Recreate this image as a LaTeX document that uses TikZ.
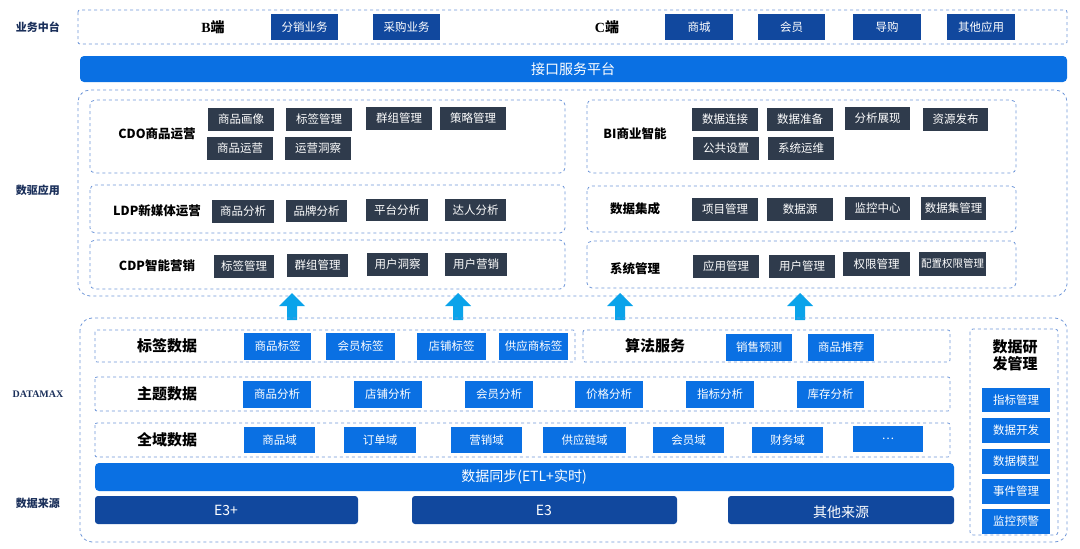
\documentclass[tikz,border=0pt]{standalone}
\usepackage{fontspec}
\setmainfont{Noto Sans CJK SC}
\newfontfamily\serifcjk{Liberation Serif}
\newfontfamily\cjkf{Noto Sans CJK SC}
\begin{document}
\begin{tikzpicture}[x=1pt,y=-1pt,
  dbox/.style={draw=dashc,dashed,line width=0.8pt,rounded corners=5pt},
  gray/.style={fill=grayc,text=white,font=\fontsize{11.5}{12}\selectfont,inner sep=0pt},
  navy/.style={fill=navyc,text=white,font=\fontsize{11.5}{12}\selectfont,inner sep=0pt},
  blue/.style={fill=bluec,text=white,font=\fontsize{11.5}{12}\selectfont,inner sep=0pt},
  side/.style={font=\bfseries\fontsize{11}{12}\selectfont,text=titc},
  lbl/.style={font=\bfseries\fontsize{12.5}{13}\selectfont,text=black},
  big/.style={font=\bfseries\fontsize{15}{17}\selectfont,text=black},
  uparr/.style={fill=arrc,draw=none}]
\definecolor{dashc}{HTML}{6E96D8}
\definecolor{grayc}{HTML}{2F3B4C}
\definecolor{navyc}{HTML}{11489E}
\definecolor{bluec}{HTML}{0A70E3}
\definecolor{titc}{HTML}{1A2F5A}
\definecolor{arrc}{HTML}{0AA3EA}
\useasboundingbox (0,0) rectangle (1080,549);
\newcommand{\bx}[5]{\node[#1,minimum width=#3-#2,minimum height=#5-#4] at ({(#2+#3)/2},{(#4+#5)/2})}
% side labels
\node[side] (s1) at (38,27) {业务中台};
\node[side] (s2) at (38,190) {数驱应用};
\node[side,font=\serifcjk\bfseries\fontsize{10}{11}\selectfont] (s3) at (38,394) {DATAMAX};
\node[side] (s4) at (38,503) {数据来源};
% top
\draw[dbox,rounded corners=2pt] (78,10) rectangle (1067,44);
\node[lbl,font=\serifcjk\bfseries\fontsize{14}{15}\selectfont] (b) at (213,27) {B{\cjkf 端}};
\bx{navy}{271}{338}{14}{40} (t1) {分销业务};
\bx{navy}{373}{440}{14}{40} (t2) {采购业务};
\node[lbl,font=\serifcjk\bfseries\fontsize{14}{15}\selectfont] (c) at (607,27) {C{\cjkf 端}};
\bx{navy}{665}{733}{14}{40} (t3) {商城};
\bx{navy}{758}{825}{14}{40} (t4) {会员};
\bx{navy}{853}{921}{14}{40} (t5) {导购};
\bx{navy}{947}{1015}{14}{40} (t6) {其他应用};
\fill[bluec,rounded corners=4pt] (80,56) rectangle (1067,82);
\node[text=white,font=\fontsize{14}{15}\selectfont] (api) at (573,69) {接口服务平台};
% apps
\draw[dbox,rounded corners=12pt] (78,90) rectangle (1067,296);
\draw[dbox] (90,100) rectangle (565,173);
\draw[dbox] (90,185) rectangle (565,233);
\draw[dbox] (90,240) rectangle (565,289);
\draw[dbox] (587,100) rectangle (1016,173);
\draw[dbox] (587,186) rectangle (1016,232);
\draw[dbox] (587,241) rectangle (1016,288);
\node[lbl] (l1) at (157,134) {CDO商品运营};
\node[lbl] (l2) at (157,211) {LDP新媒体运营};
\node[lbl] (l3) at (157,266) {CDP智能营销};
\node[lbl] (r1) at (635,134) {BI商业智能};
\node[lbl] (r2) at (635,209) {数据集成};
\node[lbl] (r3) at (635,269) {系统管理};
\bx{gray}{208}{274}{108}{131} (a1) {商品画像};
\bx{gray}{286}{352}{108}{131} (a2) {标签管理};
\bx{gray}{366}{432}{107}{130} (a3) {群组管理};
\bx{gray}{440}{506}{107}{130} (a4) {策略管理};
\bx{gray}{207}{273}{137}{160} (a5) {商品运营};
\bx{gray}{285}{351}{137}{160} (a6) {运营洞察};
\bx{gray}{212}{274}{200}{223} (b1) {商品分析};
\bx{gray}{286}{347}{200}{222} (b2) {品牌分析};
\bx{gray}{366}{428}{199}{221} (b3) {平台分析};
\bx{gray}{445}{506}{199}{221} (b4) {达人分析};
\bx{gray}{214}{274}{255}{278} (c1) {标签管理};
\bx{gray}{287}{348}{254}{277} (c2) {群组管理};
\bx{gray}{367}{428}{253}{276} (c3) {用户洞察};
\bx{gray}{445}{507}{253}{276} (c4) {用户营销};
\bx{gray}{692}{758}{108}{131} (d1) {数据连接};
\bx{gray}{767}{833}{108}{131} (d2) {数据准备};
\bx{gray}{845}{910}{107}{130} (d3) {分析展现};
\bx{gray}{923}{988}{108}{131} (d4) {资源发布};
\bx{gray}{693}{759}{137}{160} (d5) {公共设置};
\bx{gray}{768}{834}{137}{160} (d6) {系统运维};
\bx{gray}{692}{758}{198}{221} (e1) {项目管理};
\bx{gray}{767}{833}{198}{221} (e2) {数据源};
\bx{gray}{845}{910}{197}{220} (e3) {监控中心};
\bx{gray}{921}{986}{197}{220} (e4) {数据集管理};
\bx{gray}{693}{759}{255}{278} (f1) {应用管理};
\bx{gray}{769}{835}{255}{278} (f2) {用户管理};
\bx{gray}{843}{910}{252}{276} (f3) {权限管理};
\bx{gray}{919}{986}{252}{276} (f4) {\fontsize{10.5}{11}\selectfont 配置权限管理};
% arrows
\foreach \xx in {292,458,620,800}{
  \fill[arrc] (\xx-5,320) -- (\xx-5,306) -- (\xx-13,306) -- (\xx,293) -- (\xx+13,306) -- (\xx+5,306) -- (\xx+5,320) -- cycle;}
% DATAMAX
\draw[dbox,rounded corners=12pt] (80,318) rectangle (1067,542);
\draw[dbox,rounded corners=2pt] (95,330) rectangle (575,362);
\draw[dbox,rounded corners=2pt] (583,330) rectangle (950,362);
\draw[dbox,rounded corners=2pt] (95,377) rectangle (950,411);
\draw[dbox,rounded corners=2pt] (95,423) rectangle (950,457);
\draw[dbox,rounded corners=3pt] (970,329) rectangle (1058,535);
\node[big] (g1) at (167,346) {标签数据};
\node[big] (g2) at (655,346) {算法服务};
\node[big] (g3) at (167,394) {主题数据};
\node[big] (g4) at (167,440) {全域数据};
\node[big,align=center] (g5) at (1015,355) {数据研\\发管理};
\bx{blue}{244}{311}{333}{360} (h1) {商品标签};
\bx{blue}{326}{395}{333}{360} (h2) {会员标签};
\bx{blue}{417}{486}{333}{360} (h3) {店铺标签};
\bx{blue}{499}{568}{333}{360} (h4) {供应商标签};
\bx{blue}{726}{792}{334}{361} (h5) {销售预测};
\bx{blue}{808}{874}{334}{361} (h6) {商品推荐};
\bx{blue}{243}{311}{381}{408} (i1) {商品分析};
\bx{blue}{354}{422}{381}{408} (i2) {店铺分析};
\bx{blue}{465}{533}{381}{408} (i3) {会员分析};
\bx{blue}{575}{643}{381}{408} (i4) {价格分析};
\bx{blue}{686}{754}{381}{408} (i5) {指标分析};
\bx{blue}{797}{864}{381}{408} (i6) {库存分析};
\bx{blue}{244}{315}{427}{453} (j1) {商品域};
\bx{blue}{344}{416}{427}{453} (j2) {订单域};
\bx{blue}{451}{522}{427}{453} (j3) {营销域};
\bx{blue}{543}{626}{427}{453} (j4) {供应链域};
\bx{blue}{653}{724}{427}{453} (j5) {会员域};
\bx{blue}{752}{823}{427}{453} (j6) {财务域};
\bx{blue}{853}{923}{426}{452} (j7) {…};
\fill[bluec,rounded corners=4pt] (95,463) rectangle (954,491);
\node[text=white,font=\fontsize{14}{15}\selectfont] (sync) at (524,477) {数据同步(ETL+实时)};
\fill[navyc,rounded corners=3pt] (95,496) rectangle (358,524);
\node[text=white,font=\fontsize{14}{15}\selectfont] (e3p) at (226,510) {E3+};
\fill[navyc,rounded corners=3pt] (412,496) rectangle (677,524);
\node[text=white,font=\fontsize{14}{15}\selectfont] (e3) at (544,510) {E3};
\fill[navyc,rounded corners=3pt] (728,496) rectangle (954,524);
\node[text=white,font=\fontsize{14}{15}\selectfont] (oth) at (841,512) {其他来源};
\bx{blue}{982}{1050}{388}{412} (k1) {指标管理};
\bx{blue}{982}{1050}{418}{443} (k2) {数据开发};
\bx{blue}{982}{1050}{449}{474} (k3) {数据模型};
\bx{blue}{982}{1050}{479}{504} (k4) {事件管理};
\bx{blue}{982}{1050}{509}{534} (k5) {监控预警};
\end{tikzpicture}
\end{document}
